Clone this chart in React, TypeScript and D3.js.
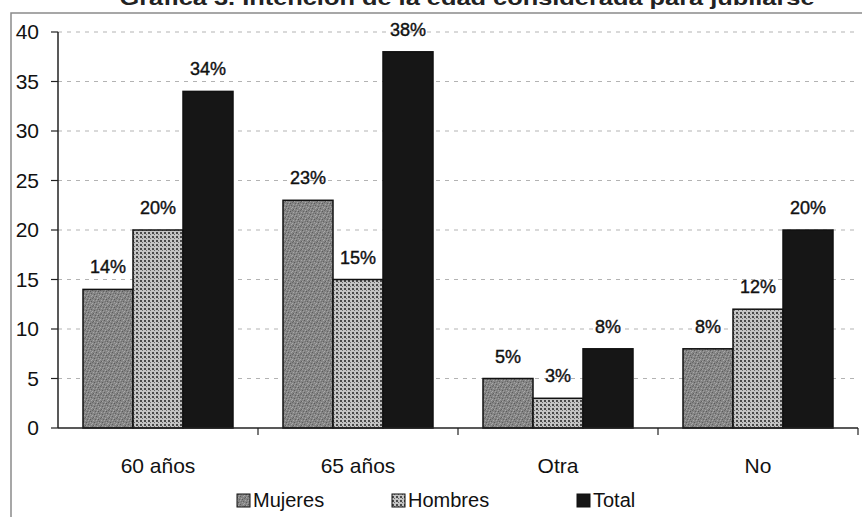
import React from "react";
import * as d3 from "d3";

// Chart data
const categories = ["60 años", "65 años", "Otra", "No"];
const seriesNames = ["Mujeres", "Hombres", "Total"];
const mujeres = [14, 23, 5, 8];
const hombres = [20, 15, 3, 12];
const total = [34, 38, 8, 20];
const yTicks = [0, 5, 10, 15, 20, 25, 30, 35, 40];
const title = "Gráfica 3. Intención de la edad considerada para jubilarse";

const W = 862;
const H = 517;
const margin = { left: 58, right: 4, top: 32, bottom: 89 };

const fills = ["url(#patMujeres)", "url(#patHombres)", "#161616"];
const font = "'Liberation Sans', Arial, Helvetica, sans-serif";

// speckle layout for the Mujeres texture: [x, y, shade]
const speckles: [number, number, string][] = [
  [0, 0, "#5e5e5e"], [3, 0, "#a8a8a8"], [5, 1, "#606060"], [1, 2, "#aaaaaa"],
  [4, 2, "#686868"], [2, 3, "#5a5a5a"], [0, 4, "#a4a4a4"], [5, 4, "#a6a6a6"],
  [3, 5, "#626262"], [1, 5, "#707070"], [6, 6, "#5c5c5c"], [2, 6, "#a2a2a2"],
  [4, 7, "#a9a9a9"], [7, 3, "#646464"], [7, 7, "#a0a0a0"], [6, 1, "#a5a5a5"],
];

export default function App() {
  const values = [mujeres, hombres, total];
  const x0 = d3
    .scaleBand<string>()
    .domain(categories)
    .range([margin.left, W - margin.right])
    .paddingInner(0.25)
    .paddingOuter(0.125);
  const step = x0.step();
  const x1 = d3.scaleBand<string>().domain(seriesNames).range([0, x0.bandwidth()]);
  const y = d3.scaleLinear().domain([0, 40]).range([H - margin.bottom, margin.top]);

  const plotLeft = margin.left;
  const plotRight = margin.left + step * categories.length;
  const boundaries = d3.range(1, categories.length + 1).map((i) => plotLeft + step * i);

  return (
    <svg
      width={W}
      height={H}
      style={{ position: "absolute", left: 0, top: 0, background: "#fff" }}
      fontFamily={font}
    >
      <defs>
        <pattern id="patMujeres" width="8" height="8" patternUnits="userSpaceOnUse">
          <rect width="8" height="8" fill="#858585" />
          {speckles.map(([sx, sy, c], i) => (
            <rect key={i} x={sx} y={sy} width="1" height="1" fill={c} />
          ))}
        </pattern>
        <pattern id="patHombres" width="4" height="4" patternUnits="userSpaceOnUse">
          <rect width="4" height="4" fill="#c4c4c4" />
          <rect x="0" y="0" width="2" height="2" fill="#4a4a4a" />
          <rect x="2" y="2" width="1" height="1" fill="#6a6a6a" />
        </pattern>
      </defs>

      <rect width={W} height={H} fill="#fff" />

      {/* title, running off the top of the page */}
      <text
        x={467}
        y={5}
        textAnchor="middle"
        fontSize={20}
        fontWeight="bold"
        fill="#222"
        textLength={695}
        lengthAdjust="spacingAndGlyphs"
      >
        {title}
      </text>

      {/* outer frame */}
      <rect x={11} y={13} width={870} height={520} fill="none" stroke="#8a8a8a" strokeWidth={1.5} />

      {/* gridlines */}
      {yTicks
        .filter((t) => t > 0)
        .map((t) => (
          <line
            key={t}
            x1={plotLeft}
            x2={plotRight}
            y1={y(t)}
            y2={y(t)}
            stroke="#b3b3b3"
            strokeWidth={1}
            strokeDasharray="4 5"
          />
        ))}

      {/* bars */}
      {categories.map((c, ci) => (
        <g key={c}>
          {seriesNames.map((s, si) => {
            const v = values[si][ci];
            const bx = (x0(c) as number) + (x1(s) as number);
            const bw = x1.bandwidth();
            return (
              <g key={s}>
                <rect
                  x={bx}
                  y={y(v)}
                  width={bw}
                  height={y(0) - y(v)}
                  fill={fills[si]}
                  stroke="#111"
                  strokeWidth={1.5}
                />
                <text
                  x={bx + bw / 2}
                  y={y(v) - 16}
                  textAnchor="middle"
                  fontSize={18}
                  fill="#111"
                  stroke="#111"
                  strokeWidth={0.4}
                >
                  {v}%
                </text>
              </g>
            );
          })}
        </g>
      ))}

      {/* y axis */}
      <line x1={plotLeft} x2={plotLeft} y1={y(40)} y2={y(0)} stroke="#222" strokeWidth={1.5} />
      {yTicks.map((t) => (
        <g key={t}>
          <line x1={plotLeft - 7} x2={plotLeft} y1={y(t)} y2={y(t)} stroke="#222" strokeWidth={1.2} />
          <text x={39} y={y(t) + 7} textAnchor="end" fontSize={21} fill="#111">
            {t}
          </text>
        </g>
      ))}

      {/* x axis */}
      <line x1={plotLeft} x2={plotRight} y1={y(0)} y2={y(0)} stroke="#222" strokeWidth={1.5} />
      {boundaries.map((bx, i) => (
        <line key={i} x1={bx} x2={bx} y1={y(0)} y2={y(0) + 7} stroke="#222" strokeWidth={1.2} />
      ))}
      {categories.map((c) => (
        <text
          key={c}
          x={(x0(c) as number) + x0.bandwidth() / 2}
          y={473}
          textAnchor="middle"
          fontSize={21}
          fill="#111"
        >
          {c}
        </text>
      ))}

      {/* legend */}
      {seriesNames.map((s, i) => {
        const lx = [237, 392, 577][i];
        return (
          <g key={s}>
            <rect x={lx} y={494} width={13} height={13} fill={fills[i]} stroke="#111" strokeWidth={1} />
            <text x={lx + 16} y={507} fontSize={20} fill="#111">
              {s}
            </text>
          </g>
        );
      })}
    </svg>
  );
}
